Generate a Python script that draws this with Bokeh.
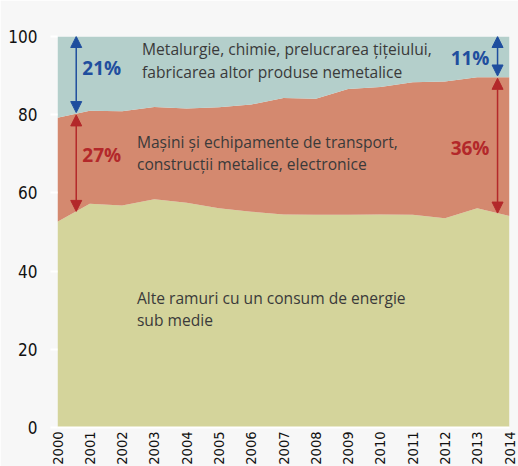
import numpy as np
from bokeh.plotting import figure
from bokeh.models import ColumnDataSource, FixedTicker, Arrow, NormalHead, Label
from bokeh.embed import file_html
from bokeh.resources import INLINE
from bokeh.core.properties import value

years = list(range(2000, 2015))
# shares (percent) of industrial gross value added
alte = [52.6, 57.2, 56.8, 58.4, 57.5, 56.1, 55.2, 54.5, 54.4, 54.4, 54.5, 54.4, 53.5, 56.1, 54.1]
masini = [26.6, 23.8, 24.1, 23.6, 24.1, 25.8, 27.4, 29.8, 29.7, 32.2, 32.6, 33.9, 35.0, 33.5, 35.5]
metal = [20.8, 19.0, 19.1, 18.0, 18.4, 18.1, 17.4, 15.7, 15.9, 13.4, 12.9, 11.7, 11.5, 10.4, 10.4]
y_ticks = [0, 20, 40, 60, 80, 100]
pct_labels = ["21%", "27%", "11%", "36%"]
area_labels = [
    ["Metalurgie, chimie, prelucrarea țițeiului,", "fabricarea altor produse nemetalice"],
    ["Mașini și echipamente de transport,", "construcții metalice, electronice"],
    ["Alte ramuri cu un consum de energie", "sub medie"],
]

C_YEL = "#d4d49b"
C_RED = "#d4896f"
C_TEAL = "#b4cfcb"
C_BLUE = "#1f4e9e"
C_DRED = "#b3282a"
TXT = "#3a3a3a"
BG = "#f7f7f7"
FONT = "Open Sans"
NARROW = "DejaVu Sans Condensed, Roboto"

src = ColumnDataSource(dict(year=years, alte=alte, masini=masini, metal=metal))

p = figure(width=518, height=466, x_range=(2000, 2014), y_range=(0, 100),
           output_backend="svg", toolbar_location=None,
           min_border_left=57, min_border_top=36, min_border_right=9, min_border_bottom=39)
p.frame_width = 452
p.frame_height = 391
p.background_fill_color = BG
p.border_fill_color = BG
p.outline_line_color = None
p.grid.visible = False

p.varea_stack(stackers=["alte", "masini", "metal"], x="year", color=[C_YEL, C_RED, C_TEAL], source=src)

# axes
p.xaxis.ticker = FixedTicker(ticks=years)
p.xaxis.major_label_orientation = np.pi / 2
p.xaxis.major_label_text_font = NARROW
p.xaxis.major_label_text_font_size = "14.5px"
p.xaxis.major_label_text_color = "#111111"
p.xaxis.major_tick_out = 0
p.xaxis.major_tick_in = 0
p.xaxis.minor_tick_line_color = None
p.xaxis.axis_line_color = "white"
p.xaxis.axis_line_width = 2
p.xaxis.major_label_standoff = 4

p.yaxis.ticker = FixedTicker(ticks=y_ticks)
p.yaxis.major_label_text_font = NARROW
p.yaxis.major_label_text_font_size = "17px"
p.yaxis.major_label_text_color = "#111111"
p.yaxis.major_tick_line_color = "white"
p.yaxis.major_tick_line_width = 2
p.yaxis.major_tick_out = 7
p.yaxis.major_tick_in = 0
p.yaxis.minor_tick_line_color = None
p.yaxis.axis_line_color = None
p.yaxis.major_label_standoff = 13

# arrows
xs = np.array(years, dtype=float)
red_top = np.array(alte) + np.array(masini)
yel_top = np.array(alte)
for xa in [2000.58, 2013.63]:
    rt = float(np.interp(xa, xs, red_top))
    yt = float(np.interp(xa, xs, yel_top))
    p.add_layout(Arrow(x_start=xa, y_start=100, x_end=xa, y_end=rt + 0.3,
                       line_color=C_BLUE, line_width=1.5,
                       start=NormalHead(size=11, fill_color=C_BLUE, line_color=C_BLUE),
                       end=NormalHead(size=11, fill_color=C_BLUE, line_color=C_BLUE)))
    p.add_layout(Arrow(x_start=xa, y_start=rt - 0.3, x_end=xa, y_end=yt,
                       line_color=C_DRED, line_width=1.5,
                       start=NormalHead(size=11, fill_color=C_DRED, line_color=C_DRED),
                       end=NormalHead(size=11, fill_color=C_DRED, line_color=C_DRED)))

# percent labels
pct_pos = [(2000.77, 92.0, "left", C_BLUE), (2000.77, 69.7, "left", C_DRED),
           (2013.38, 94.6, "right", C_BLUE), (2013.38, 71.5, "right", C_DRED)]
for (x, y, al, c), t in zip(pct_pos, pct_labels):
    p.add_layout(Label(x=x, y=y, text=t, text_align=al, text_baseline="middle",
                       text_font=FONT, text_font_style="bold", text_font_size="19px", text_color=c))

# area labels
area_pos = [(2002.62, [96.7, 90.8]), (2002.46, [73.1, 67.4]), (2002.46, [33.1, 27.4])]
for (x, ys), lines in zip(area_pos, area_labels):
    for y, t in zip(ys, lines):
        p.add_layout(Label(x=x, y=y, text=t, text_align="left", text_baseline="middle",
                           text_font=FONT, text_font_size="15.6px", text_color=TXT))

p.add_layout(Label(x=2000.03, y=104.2, text="procente", text_align="left", text_baseline="middle",
                   text_font=FONT, text_font_size="17px", text_color=TXT))

open("out.html", "w").write(file_html(p, INLINE))
